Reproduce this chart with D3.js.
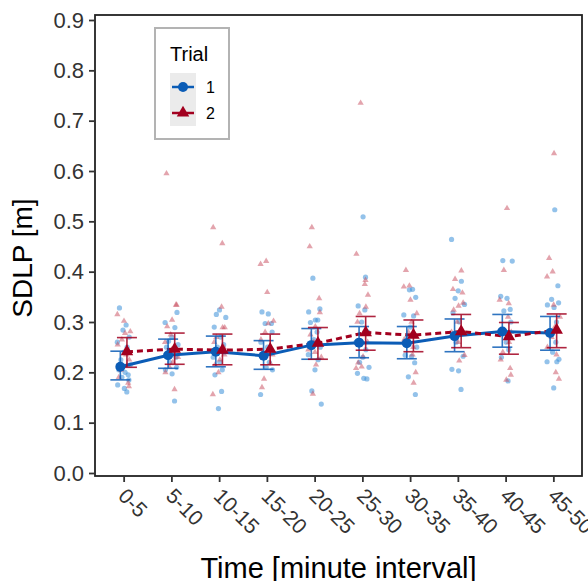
<!DOCTYPE html>
<html>
<head>
<meta charset="utf-8">
<script src="https://cdn.jsdelivr.net/npm/d3@7"></script>
<style>
  body { margin: 0; background: #fff; }
  svg { display: block; font-family: "Liberation Sans", Arial, sans-serif; }
</style>
</head>
<body>
<div id="chart-area"></div>
<script>
// categories
var intervals = ["0-5", "5-10", "10-15", "15-20", "20-25", "25-30", "30-35", "35-40", "40-45", "45-50"];
var yTicks = [0, 0.1, 0.2, 0.3, 0.4, 0.5, 0.6, 0.7, 0.8, 0.9];

// means and error bar limits, trial 1 and trial 2
var mean1 = [0.211, 0.234, 0.241, 0.233, 0.254, 0.259, 0.258, 0.272, 0.281, 0.278];
var lo1   = [0.185, 0.208, 0.211, 0.206, 0.226, 0.229, 0.227, 0.241, 0.250, 0.244];
var hi1   = [0.242, 0.266, 0.272, 0.263, 0.287, 0.291, 0.291, 0.306, 0.315, 0.311];
var mean2 = [0.241, 0.246, 0.244, 0.246, 0.258, 0.279, 0.274, 0.281, 0.271, 0.284];
var lo2   = [0.210, 0.216, 0.215, 0.215, 0.226, 0.244, 0.241, 0.249, 0.236, 0.249];
var hi2   = [0.269, 0.278, 0.276, 0.276, 0.289, 0.311, 0.304, 0.315, 0.299, 0.316];

// raw SDLP per participant (jittered points)
var raw1 = [
  [0.328, 0.294, 0.284, 0.27, 0.26, 0.25, 0.24, 0.225, 0.215, 0.205, 0.2, 0.195, 0.19, 0.185, 0.175, 0.168, 0.161],
  [0.319, 0.299, 0.289, 0.27, 0.262, 0.255, 0.25, 0.24, 0.23, 0.22, 0.21, 0.205, 0.197, 0.143],
  [0.324, 0.315, 0.309, 0.29, 0.27, 0.255, 0.25, 0.24, 0.23, 0.22, 0.205, 0.195, 0.162, 0.128],
  [0.32, 0.316, 0.297, 0.297, 0.28, 0.26, 0.25, 0.245, 0.235, 0.22, 0.21, 0.205, 0.156],
  [0.387, 0.326, 0.32, 0.304, 0.304, 0.299, 0.28, 0.265, 0.25, 0.235, 0.225, 0.205, 0.163, 0.137],
  [0.509, 0.389, 0.332, 0.324, 0.3, 0.28, 0.26, 0.245, 0.23, 0.22, 0.21, 0.198, 0.188, 0.187],
  [0.365, 0.364, 0.349, 0.314, 0.312, 0.29, 0.27, 0.25, 0.234, 0.232, 0.219, 0.191, 0.156],
  [0.464, 0.381, 0.362, 0.347, 0.335, 0.318, 0.3, 0.28, 0.26, 0.232, 0.206, 0.203, 0.166],
  [0.422, 0.421, 0.351, 0.347, 0.325, 0.322, 0.3, 0.28, 0.26, 0.245, 0.23, 0.183],
  [0.523, 0.372, 0.345, 0.338, 0.334, 0.329, 0.3, 0.28, 0.26, 0.24, 0.226, 0.221, 0.221, 0.169]
];
var raw2 = [
  [0.315, 0.302, 0.281, 0.278, 0.265, 0.255, 0.248, 0.235, 0.225, 0.215, 0.205, 0.19, 0.179, 0.172],
  [0.595, 0.334, 0.334, 0.304, 0.291, 0.275, 0.26, 0.245, 0.23, 0.22, 0.21, 0.2, 0.166],
  [0.488, 0.456, 0.33, 0.289, 0.289, 0.27, 0.26, 0.25, 0.235, 0.225, 0.215, 0.2, 0.156],
  [0.421, 0.415, 0.359, 0.302, 0.297, 0.28, 0.265, 0.25, 0.24, 0.235, 0.218, 0.187, 0.17],
  [0.488, 0.45, 0.347, 0.319, 0.291, 0.275, 0.26, 0.245, 0.24, 0.23, 0.215, 0.157],
  [0.735, 0.435, 0.383, 0.375, 0.354, 0.33, 0.317, 0.3, 0.28, 0.26, 0.231, 0.219, 0.211, 0.208],
  [0.403, 0.372, 0.37, 0.344, 0.317, 0.3, 0.28, 0.265, 0.25, 0.235, 0.2, 0.179],
  [0.402, 0.385, 0.365, 0.358, 0.338, 0.332, 0.324, 0.3, 0.28, 0.26, 0.234, 0.223],
  [0.526, 0.403, 0.344, 0.337, 0.31, 0.28, 0.26, 0.24, 0.225, 0.208, 0.195, 0.185],
  [0.635, 0.427, 0.4, 0.39, 0.334, 0.31, 0.29, 0.27, 0.25, 0.235, 0.2, 0.187]
];

var trials = ["1", "2"];

var svgWidth = 588, svgHeight = 581;
var panel = { left: 95, right: 582, top: 15, bottom: 476 };

var blue = "#0b5cb6", red = "#a2001f";

var svg = d3.select("#chart-area").append("svg")
  .attr("width", svgWidth)
  .attr("height", svgHeight);

var x = d3.scalePoint()
  .domain(intervals)
  .range([panel.left, panel.right])
  .padding(0.6);

var y = d3.scaleLinear()
  .domain([0, 0.9])
  .range([473, 20]);

var dodge = 3.3;
var jitterW = 7;
// fixed spread pattern for the jittered points
var spread = [-0.6, 0.35, -0.1, 0.8, -0.9, 0.5, 0.05, -0.4, 0.95, -0.7, 0.2, 0.65, -0.25, 0.75, -0.85, 0.1, 0.45];

var tri = d3.symbol().type(d3.symbolTriangle);

// jittered raw points
var g = svg.append("g");
raw1.forEach(function(vals, i) {
  g.selectAll(null)
    .data(vals)
    .enter()
    .append("circle")
    .attr("cx", (d, j) => x(intervals[i]) + spread[(j + i * 3) % spread.length] * jitterW)
    .attr("cy", d => y(d))
    .attr("r", 2.6)
    .attr("fill", "#3b8fd9")
    .attr("opacity", 0.55);
});
raw2.forEach(function(vals, i) {
  g.selectAll(null)
    .data(vals)
    .enter()
    .append("path")
    .attr("d", tri.size(17))
    .attr("transform", (d, j) => "translate(" + (x(intervals[i]) + spread[(j * 2 + i * 5 + 4) % spread.length] * jitterW) + "," + y(d) + ")")
    .attr("fill", "#c84a5c")
    .attr("opacity", 0.5);
});

// lines
var line = d3.line()
  .x(d => d[0])
  .y(d => y(d[1]));

svg.append("path")
  .datum(mean1.map((v, i) => [x(intervals[i]) - dodge, v]))
  .attr("d", line)
  .attr("fill", "none")
  .attr("stroke", blue)
  .attr("stroke-width", 3);

svg.append("path")
  .datum(mean2.map((v, i) => [x(intervals[i]) + dodge, v]))
  .attr("d", line)
  .attr("fill", "none")
  .attr("stroke", red)
  .attr("stroke-width", 3)
  .attr("stroke-dasharray", "6,4");

// error bars
function errorBars(lo, hi, off, col) {
  var eb = svg.append("g")
    .attr("stroke", col)
    .attr("stroke-width", 1.6)
    .attr("opacity", 0.85);
  intervals.forEach(function(c, i) {
    var cx = x(c) + off;
    eb.append("line").attr("x1", cx).attr("x2", cx).attr("y1", y(lo[i])).attr("y2", y(hi[i]));
    eb.append("line").attr("x1", cx - 10).attr("x2", cx + 10).attr("y1", y(lo[i])).attr("y2", y(lo[i]));
    eb.append("line").attr("x1", cx - 10).attr("x2", cx + 10).attr("y1", y(hi[i])).attr("y2", y(hi[i]));
  });
}
errorBars(lo1, hi1, -dodge, blue);
errorBars(lo2, hi2, dodge, red);

// mean points
svg.append("g").selectAll("circle")
  .data(mean1)
  .enter()
  .append("circle")
  .attr("cx", (d, i) => x(intervals[i]) - dodge)
  .attr("cy", d => y(d))
  .attr("r", 5)
  .attr("fill", blue);

svg.append("g").selectAll("path")
  .data(mean2)
  .enter()
  .append("path")
  .attr("d", tri.size(68))
  .attr("transform", (d, i) => "translate(" + (x(intervals[i]) + dodge) + "," + y(d) + ")")
  .attr("fill", red);

// panel border
svg.append("rect")
  .attr("x", panel.left)
  .attr("y", panel.top)
  .attr("width", panel.right - panel.left)
  .attr("height", panel.bottom - panel.top)
  .attr("fill", "none")
  .attr("stroke", "#222")
  .attr("stroke-width", 1.8);

// y axis
var yAxis = svg.append("g")
  .attr("transform", "translate(" + panel.left + ",0)")
  .call(d3.axisLeft(y).tickValues(yTicks).tickFormat(d3.format(".1f")).tickSize(6).tickPadding(5));
yAxis.select(".domain").remove();
yAxis.selectAll(".tick line").attr("stroke", "#333").attr("stroke-width", 1.8);
yAxis.selectAll(".tick text")
  .attr("fill", "#333")
  .style("font-size", "22px")
  .style("font-family", "'Liberation Sans', Arial, sans-serif");

// x axis
var xAxis = svg.append("g")
  .attr("transform", "translate(0," + panel.bottom + ")")
  .call(d3.axisBottom(x).tickSize(6).tickPadding(0));
xAxis.select(".domain").remove();
xAxis.selectAll(".tick line").attr("stroke", "#333").attr("stroke-width", 1.8);
xAxis.selectAll(".tick text")
  .attr("fill", "#333")
  .style("font-size", "21px")
  .style("font-family", "'Liberation Sans', Arial, sans-serif")
  .attr("text-anchor", "start")
  .attr("y", 0)
  .attr("dy", "0.35em")
  .attr("transform", "translate(-2,16) rotate(45)");

// axis titles
svg.append("text")
  .attr("x", (panel.left + panel.right) / 2)
  .attr("y", 578)
  .attr("text-anchor", "middle")
  .style("font-size", "29px")
  .attr("fill", "#000")
  .text("Time [minute interval]");

svg.append("text")
  .attr("transform", "translate(32,258) rotate(-90)")
  .attr("text-anchor", "middle")
  .style("font-size", "28px")
  .attr("fill", "#000")
  .text("SDLP [m]");

// legend
var leg = svg.append("g");
leg.append("rect")
  .attr("x", 155).attr("y", 28)
  .attr("width", 74).attr("height", 111)
  .attr("fill", "#fff")
  .attr("stroke", "#b3b3b3")
  .attr("stroke-width", 2);
leg.append("text")
  .attr("x", 170).attr("y", 61)
  .style("font-size", "20px")
  .text("Trial");
leg.append("rect")
  .attr("x", 170).attr("y", 73)
  .attr("width", 26).attr("height", 53)
  .attr("fill", "#ebebeb");

var keyY = d3.scalePoint().domain(trials).range([87, 113]);
var keyCol = [blue, red];
trials.forEach(function(t, i) {
  var ky = keyY(t);
  leg.append("line")
    .attr("x1", 172).attr("x2", 194)
    .attr("y1", ky).attr("y2", ky)
    .attr("stroke", keyCol[i])
    .attr("stroke-width", 2.5);
  if (i == 0) {
    leg.append("circle").attr("cx", 183).attr("cy", ky).attr("r", 5).attr("fill", blue);
  } else {
    leg.append("path").attr("d", tri.size(68)).attr("transform", "translate(183," + ky + ")").attr("fill", red);
  }
  leg.append("text")
    .attr("x", 206).attr("y", ky)
    .attr("dy", "0.36em")
    .style("font-size", "16px")
    .text(t);
});
</script>
</body>
</html>
